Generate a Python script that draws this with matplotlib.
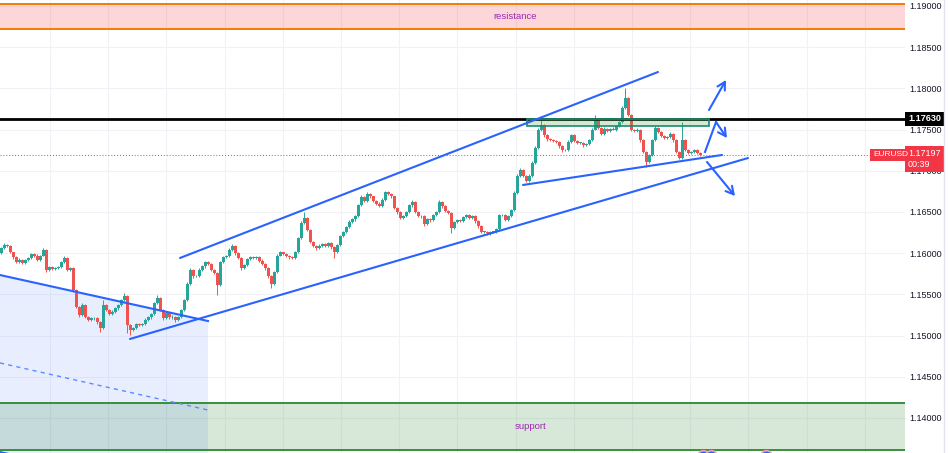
import matplotlib
matplotlib.use('Agg')
import matplotlib.pyplot as plt
import matplotlib.transforms as mtransforms
from matplotlib.patches import Polygon, Rectangle
from matplotlib.lines import Line2D
import numpy as np

plt.rcParams['font.family'] = ['Liberation Sans', 'DejaVu Sans']

# ---------------- data (EURUSD candles) ----------------
closes = [
    1.1606, 1.1610, 1.1609, 1.1601, 1.1595, 1.1589, 1.1592, 1.1588, 1.1592, 1.1594,
    1.1599, 1.1597, 1.1592, 1.1597, 1.1604, 1.1580, 1.1583, 1.1581, 1.1582, 1.1583,
    1.1589, 1.1594, 1.1580, 1.1582, 1.1555, 1.1535, 1.1525, 1.1537, 1.1523, 1.1519,
    1.1521, 1.1521, 1.1516, 1.1509, 1.1537, 1.1531, 1.1526, 1.1529, 1.1533, 1.1537,
    1.1543, 1.1548, 1.1513, 1.1507, 1.1509, 1.1514, 1.1513, 1.1514, 1.1519, 1.1522,
    1.1526, 1.1539, 1.1546, 1.1531, 1.1521, 1.1527, 1.1522, 1.1523, 1.1519, 1.1523,
    1.1531, 1.1543, 1.1563, 1.1580, 1.1572, 1.1572, 1.1580, 1.1584, 1.1589, 1.1587,
    1.1580, 1.1576, 1.1561, 1.1589, 1.1595, 1.1597, 1.1604, 1.1609, 1.1600, 1.1594,
    1.1582, 1.1586, 1.1593, 1.1595, 1.1594, 1.1595, 1.1591, 1.1587, 1.1582, 1.1572,
    1.1563, 1.1577, 1.1597, 1.1601, 1.1599, 1.1597, 1.1595, 1.1594, 1.1601, 1.1618,
    1.1637, 1.1643, 1.1628, 1.1614, 1.1609, 1.1606, 1.1609, 1.1611, 1.1609, 1.1612,
    1.1607, 1.1601, 1.1610, 1.1621, 1.1626, 1.1632, 1.1638, 1.1641, 1.1645, 1.1658,
    1.1668, 1.1663, 1.1672, 1.1669, 1.1663, 1.1660, 1.1657, 1.1665, 1.1674, 1.1672,
    1.1669, 1.1655, 1.1650, 1.1643, 1.1645, 1.1650, 1.1658, 1.1662, 1.1650, 1.1645,
    1.1645, 1.1635, 1.1641, 1.1640, 1.1646, 1.1650, 1.1662, 1.1657, 1.1651, 1.1649,
    1.1631, 1.1638, 1.1640, 1.1639, 1.1644, 1.1646, 1.1643, 1.1645, 1.1639, 1.1633,
    1.1626, 1.1626, 1.1624, 1.1626, 1.1626, 1.1629, 1.1646, 1.1646, 1.1640, 1.1645,
    1.1652, 1.1673, 1.1694, 1.1701, 1.1694, 1.1688, 1.1694, 1.1710, 1.1728, 1.1750,
    1.1756, 1.1743, 1.1738, 1.1737, 1.1736, 1.1735, 1.1730, 1.1725, 1.1725, 1.1735,
    1.1743, 1.1736, 1.1734, 1.1734, 1.1731, 1.1732, 1.1737, 1.1750, 1.1762, 1.1752,
    1.1745, 1.1751, 1.1748, 1.1751, 1.1750, 1.1754, 1.1759, 1.1776, 1.1788, 1.1768,
    1.1750, 1.1748, 1.1750, 1.1737, 1.1723, 1.1711, 1.1719, 1.1737, 1.1752, 1.1747,
    1.1742, 1.1740, 1.1741, 1.1745, 1.1737, 1.1723, 1.1716, 1.1737, 1.1725, 1.1722,
    1.1723, 1.1725, 1.1722, 1.17197,
]
first_open = 1.1600
# wick lengths in points (1e-5)
upper_wicks = [
    12, 20, 10, 15, 8, 14, 18, 10, 12, 16,
    15, 10, 18, 12, 25, 10, 14, 12, 10, 16,
    12, 20, 10, 14, 12, 18, 10, 24, 12, 10,
    16, 12, 10, 12, 60, 14, 10, 16, 12, 10,
    18, 35, 12, 10, 16, 12, 14, 10, 18, 12,
    15, 20, 35, 10, 12, 16, 10, 14, 12, 10,
    16, 18, 20, 25, 12, 10, 16, 14, 20, 12,
    10, 14, 12, 20, 16, 10, 18, 22, 12, 10,
    14, 12, 16, 10, 12, 18, 10, 14, 12, 10,
    12, 16, 20, 12, 10, 14, 12, 10, 16, 20,
    18, 70, 12, 10, 14, 12, 16, 10, 14, 12,
    10, 12, 16, 14, 12, 10, 18, 12, 14, 20,
    22, 12, 25, 14, 10, 12, 16, 14, 20, 12,
    14, 10, 12, 16, 10, 14, 18, 20, 10, 12,
    14, 10, 16, 12, 14, 18, 25, 12, 10, 14,
    10, 14, 12, 16, 10, 18, 12, 14, 10, 12,
    10, 12, 14, 10, 12, 16, 20, 12, 14, 18,
    16, 20, 18, 22, 12, 10, 16, 18, 20, 22,
    60, 14, 12, 16, 10, 14, 12, 10, 14, 18,
    20, 12, 14, 10, 12, 14, 18, 20, 60, 14,
    12, 16, 14, 12, 18, 16, 20, 24, 130, 16,
    14, 12, 16, 12, 10, 12, 14, 20, 22, 14,
    12, 14, 12, 16, 14, 10, 12, 220, 14, 12,
    14, 12, 10, 12,
]
lower_wicks = [
    14, 10, 16, 12, 18, 10, 14, 16, 10, 12,
    10, 14, 12, 16, 10, 24, 12, 14, 16, 10,
    14, 12, 18, 10, 20, 16, 22, 12, 18, 14,
    12, 16, 18, 50, 12, 14, 16, 10, 12, 14,
    10, 12, 100, 60, 12, 16, 10, 14, 12, 10,
    14, 12, 10, 16, 18, 12, 14, 16, 20, 12,
    14, 10, 12, 10, 16, 14, 12, 10, 14, 16,
    14, 18, 120, 12, 10, 14, 12, 10, 16, 14,
    18, 12, 10, 14, 12, 10, 16, 14, 18, 20,
    50, 14, 12, 10, 14, 12, 16, 14, 10, 12,
    10, 12, 16, 18, 14, 16, 12, 14, 10, 16,
    18, 70, 12, 10, 14, 12, 10, 12, 14, 10,
    12, 14, 10, 16, 14, 18, 12, 10, 14, 12,
    16, 18, 20, 14, 12, 10, 12, 14, 18, 16,
    20, 14, 12, 16, 10, 12, 14, 16, 12, 14,
    60, 12, 14, 10, 12, 14, 16, 12, 18, 20,
    14, 16, 18, 14, 12, 10, 12, 14, 12, 10,
    12, 10, 14, 16, 18, 20, 12, 10, 12, 14,
    12, 16, 14, 12, 14, 16, 18, 20, 14, 12,
    10, 14, 16, 14, 18, 12, 10, 12, 10, 14,
    16, 12, 14, 12, 10, 12, 10, 12, 14, 16,
    12, 14, 12, 18, 20, 60, 14, 12, 10, 14,
    12, 14, 12, 10, 16, 18, 20, 12, 14, 16,
    12, 14, 16, 12,
]

price_ticks = [1.14, 1.145, 1.15, 1.155, 1.16, 1.165, 1.17, 1.175, 1.18, 1.185, 1.19]
tick_labels = ['1.14000', '1.14500', '1.15000', '1.15500', '1.16000', '1.16500',
               '1.17000', '1.17500', '1.18000', '1.18500', '1.19000']

resistance_zone = (1.18721, 1.19024)
support_zone = (1.13612, 1.14182)
key_level = 1.1763
key_label = '1.17630'
last_price = 1.17197
last_label = '1.17197'
countdown = '00:39'
symbol = 'EURUSD'

# drawings, as (bar index, price)
channel_top = [(-0.5, 1.15735), (68.83, 1.15177)]
channel_mid = [(-0.5, 1.14668), (68.83, 1.14097)]
channel_bot = [(-0.5, 1.13587), (68.83, 1.13029)]
rising_support = [(42.83, 1.14959), (248.83, 1.17155)]
rising_resist = [(59.5, 1.15942), (218.83, 1.18199)]
short_support = [(173.83, 1.16828), (240.17, 1.17192)]
arrow_up = [(235.83, 1.17738), (241.5, 1.18102)]
arrow_zig = [(234.5, 1.17228), (238.17, 1.17592), (241.83, 1.17398)]
arrow_down = [(235.17, 1.17107), (244.5, 1.16694)]
range_box = (175.17, 235.83, 1.1754, 1.1763)
event_icons = [233.8, 236.5, 254.8]

# ---------------- figure ----------------
W, H = 948, 453
fig = plt.figure(figsize=(W / 100, H / 100), dpi=100)
fig.patch.set_facecolor('white')
ax = fig.add_axes([0, 0, 905 / W, 1])
ax.set_xlim(-0.5, 905 / 3 - 0.5)
ax.set_ylim(1.135752, 1.190728)
for s in ax.spines.values():
    s.set_visible(False)

# grid
ax.set_yticks(price_ticks)
ax.set_yticklabels(tick_labels)
ax.yaxis.tick_right()
ax.tick_params(axis='y', length=0, pad=3, labelsize=6.5, labelcolor='#131722')
ax.set_xticks(np.arange(16.17, 301, 19.4))
ax.tick_params(axis='x', length=0, labelbottom=False)
ax.grid(True, color='#f0f2f6', lw=0.8, zorder=0)
ax.set_axisbelow(True)

blue = '#2962ff'

# zones
ax.axhspan(*resistance_zone, color='#f23645', alpha=0.2, lw=0, zorder=1)
for v in resistance_zone:
    ax.axhline(v, color='#f57c00', lw=1.4, zorder=1.5)
ax.axhspan(*support_zone, color='#388e3c', alpha=0.2, lw=0, zorder=1)
for v in support_zone:
    ax.axhline(v, color='#388e3c', lw=1.4, zorder=1.5)
ax.text(171.2, sum(resistance_zone) / 2, 'resistance', color='#9c27b0', fontsize=6.8,
        ha='center', va='center', zorder=6)
ax.text(176.2, sum(support_zone) / 2, 'support', color='#9c27b0', fontsize=6.8,
        ha='center', va='center', zorder=6)

# parallel channel on the left
poly = Polygon([channel_top[0], channel_top[1], channel_bot[1], channel_bot[0]],
               closed=True, facecolor=blue, alpha=0.1, lw=0, zorder=1)
ax.add_patch(poly)
ax.plot(*zip(*channel_top), color=blue, lw=1.5, zorder=5)
ax.plot(*zip(*channel_bot), color=blue, lw=1.5, zorder=5)
ax.plot(*zip(*channel_mid), color='#5b8cff', lw=1.0, ls=(0, (3, 3)), zorder=5)

# candles
opens = [first_open] + closes[:-1]
idx = np.arange(len(closes))
o = np.array(opens)
c = np.array(closes)
hi = np.maximum(o, c) + np.array(upper_wicks) * 1e-5
lo = np.minimum(o, c) - np.array(lower_wicks) * 1e-5
up = c >= o
cols = np.where(up, '#26a69a', '#ef5350')
ax.vlines(idx, lo, hi, colors=cols, lw=0.7, zorder=3)
body = np.maximum(np.abs(c - o), 0.00004)
ax.bar(idx, body, bottom=np.minimum(o, c), width=0.72, color=cols, lw=0, zorder=3)

# key level + range box
ax.axhline(key_level, color='black', lw=2, zorder=4)
x0, x1, y0, y1 = range_box
ax.add_patch(Rectangle((x0, y0), x1 - x0, y1 - y0, facecolor='#4caf50', alpha=0.25,
                       lw=0, zorder=4))
ax.add_patch(Rectangle((x0, y0), x1 - x0, y1 - y0, facecolor='none', edgecolor='#1b8a6b',
                       lw=1.2, zorder=4.5))

# last price line
ax.axhline(last_price, color='#f23645', lw=0.7, ls=(0, (1, 2)), zorder=2)

# trend lines
for ln in (rising_support, rising_resist, short_support):
    ax.plot(*zip(*ln), color=blue, lw=1.5, zorder=5, solid_capstyle='round')

arrow_kw = dict(arrowstyle='->,head_length=0.55,head_width=0.3', color=blue, lw=1.5,
                shrinkA=0, shrinkB=0)
ax.annotate('', xy=arrow_up[1], xytext=arrow_up[0], arrowprops=arrow_kw, zorder=5)
ax.plot(*zip(*arrow_zig[:2]), color=blue, lw=1.5, zorder=5)
ax.annotate('', xy=arrow_zig[2], xytext=arrow_zig[1], arrowprops=arrow_kw, zorder=5)
ax.annotate('', xy=arrow_down[1], xytext=arrow_down[0], arrowprops=arrow_kw, zorder=5)

# event icons at the bottom
ax.scatter(event_icons, [1.13535] * len(event_icons), s=70, facecolor=blue,
           edgecolor='#f5a3aa', lw=1.2, zorder=6)

# axis labels (price boxes)
trans = mtransforms.blended_transform_factory(ax.transAxes, ax.transData)
ax.text(1.0 + 3 / 905, key_level, key_label, transform=trans, ha='left', va='center',
        color='white', fontsize=6.5, fontweight='bold', clip_on=False, zorder=10,
        bbox=dict(boxstyle='square,pad=0.3', fc='black', ec='none'))
ax.text(1.0 + 3 / 905, 1.17143, last_label + '\n' + countdown, transform=trans, ha='left',
        va='center', color='white', fontsize=6.5, linespacing=1.25, clip_on=False,
        zorder=10, bbox=dict(boxstyle='square,pad=0.35', fc='#f23645', ec='none'))
ax.text(296.3, last_price, symbol, ha='center', va='center', color='white', fontsize=6.0,
        zorder=10, bbox=dict(boxstyle='square,pad=0.3', fc='#f23645', ec='none'))

fig.add_artist(Line2D([943.5 / W, 943.5 / W], [0, 1], color='#e0e3eb', lw=1))

fig.savefig('out.png', dpi=100, facecolor='white')
